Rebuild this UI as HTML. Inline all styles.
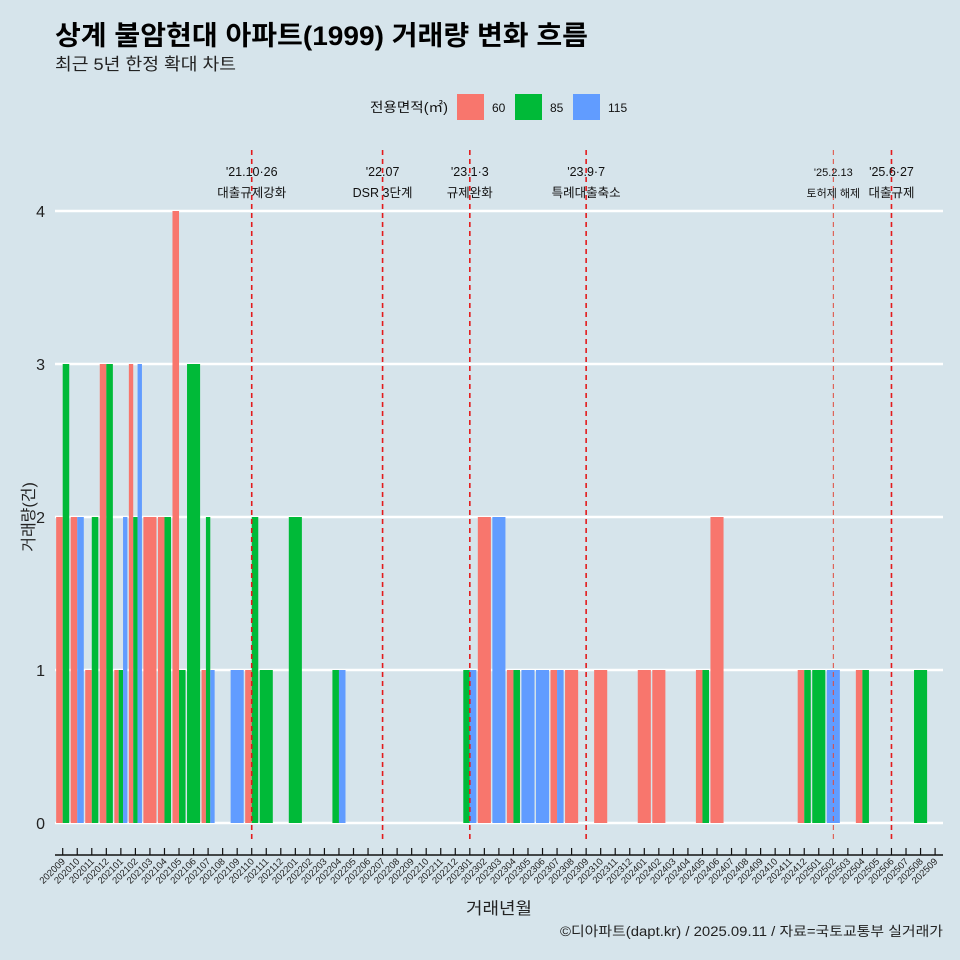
<!DOCTYPE html>
<html><head><meta charset="utf-8"><style>
body{margin:0;background:#d6e4eb;}
svg{display:block;font-family:"Liberation Sans","Noto Sans CJK KR",sans-serif;}
</style></head><body>
<svg id="chart" width="960" height="960" xmlns="http://www.w3.org/2000/svg">
<rect width="960" height="960" fill="#d6e4eb"/>
<text x="55" y="45" font-size="27" font-weight="bold" fill="#000" textLength="533" lengthAdjust="spacingAndGlyphs">상계 불암현대 아파트(1999) 거래량 변화 흐름</text>
<text x="55" y="70" font-size="17" fill="#222" textLength="181" lengthAdjust="spacingAndGlyphs">최근 5년 한정 확대 차트</text>
<g>
<text x="370" y="112" font-size="13.5" fill="#111" textLength="78" lengthAdjust="spacingAndGlyphs">전용면적(㎡)</text>
<rect x="457" y="94" width="27" height="26" fill="#F8766D"/>
<text x="492" y="112" font-size="12" fill="#111">60</text>
<rect x="515" y="94" width="27" height="26" fill="#00BA38"/>
<text x="550" y="112" font-size="12" fill="#111">85</text>
<rect x="573" y="94" width="27" height="26" fill="#619CFF"/>
<text x="608" y="112" font-size="12" fill="#111">115</text>
</g>
<g id="grid"></g><g id="bars"></g><g id="events"></g><g id="axes"></g>
<text transform="translate(34,517) rotate(-90)" text-anchor="middle" font-size="16" fill="#222">거래량(건)</text>
<text x="499" y="914" text-anchor="middle" font-size="16.5" fill="#222" textLength="66" lengthAdjust="spacingAndGlyphs">거래년월</text>
<text x="943" y="936" text-anchor="end" font-size="13.5" fill="#222" textLength="383" lengthAdjust="spacingAndGlyphs">©디아파트(dapt.kr) / 2025.09.11 / 자료=국토교통부 실거래가</text>
</svg>
<script>
const months = [];
for (let y = 2020, m = 9; y < 2025 || (y === 2025 && m <= 9); m++) { if (m > 12) { m = 1; y++; } months.push(String(y) + String(m).padStart(2, '0')); }
const areaTypes = ['60', '85', '115'];
const areaColors = ['#F8766D', '#00BA38', '#619CFF'];
const vol60 = {"202009":2,"202010":2,"202011":1,"202012":3,"202101":1,"202102":3,"202103":2,"202104":2,"202105":4,"202107":1,"202110":1,"202302":2,"202304":1,"202307":1,"202308":1,"202310":1,"202401":1,"202402":1,"202405":1,"202406":2,"202412":1,"202504":1};
const vol85 = {"202009":3,"202011":2,"202012":3,"202101":1,"202102":2,"202104":2,"202105":1,"202106":3,"202107":2,"202110":2,"202111":1,"202201":2,"202204":1,"202301":1,"202304":1,"202405":1,"202412":1,"202501":1,"202504":1,"202508":1};
const vol115 = {"202010":2,"202101":2,"202102":3,"202107":1,"202109":1,"202204":1,"202301":1,"202303":2,"202305":1,"202306":1,"202307":1,"202502":1};
const yTicks = [0, 1, 2, 3, 4];
const eventMonths = ['202110', '202207', '202301', '202309', '202502', '202506'];
const eventDates = ["'21.10·26", "'22.07", "'23.1·3", "'23.9·7", "'25.2.13", "'25.6·27"];
const eventLabels = ['대출규제강화', 'DSR 3단계', '규제완화', '특례대출축소', '토허제 해제', '대출규제'];

const NS = 'http://www.w3.org/2000/svg';
const x0 = 62.7, step = 14.54, yZero = 823, unit = 153, left = 55, right = 943;
const xScale = i => x0 + i * step;
const yScale = v => yZero - v * unit;
function mk(tag, attrs, parent) { const e = document.createElementNS(NS, tag); for (const k in attrs) e.setAttribute(k, attrs[k]); parent.appendChild(e); return e; }
const grid = document.getElementById('grid'), bars = document.getElementById('bars'), ev = document.getElementById('events'), axes = document.getElementById('axes');

yTicks.forEach(t => {
  const l = mk('line', {x1: left, x2: right, y1: yScale(t), y2: yScale(t), stroke: '#fff', 'stroke-width': 2.5}, grid);
  
  
  const tx = mk('text', {x: 45, y: yScale(t) + 6, 'text-anchor': 'end', 'font-size': 16, fill: '#222'}, axes);
  tx.textContent = t;
  
  
});

const series = [vol60, vol85, vol115];
months.forEach((mo, i) => {
  const present = [];
  series.forEach((s, k) => { if (s[mo]) present.push(k); });
  if (!present.length) return;
  const gw = step * 0.9, bw = gw / present.length, start = xScale(i) - gw / 2;
  present.forEach((k, j) => {
    const v = series[k][mo];
    const r = mk('rect', {x: start + j * bw, y: yScale(v), width: bw, height: v * unit, fill: areaColors[k]}, bars);
    
    
  });
});

eventMonths.forEach((mo, k) => {
  const x = xScale(months.indexOf(mo));
  const thin = mo === '202502';
  const l = mk('line', {x1: x, x2: x, y1: 150, y2: 840, stroke: thin ? '#e0483a' : '#e31a1c', 'stroke-width': thin ? 1 : 1.6, 'stroke-dasharray': '5,4'}, ev);
  
  
  const fs = thin ? 11 : 12.5;
  const t1 = mk('text', {x: x, y: 176, 'text-anchor': 'middle', 'font-size': fs, fill: '#111'}, ev);
  t1.textContent = eventDates[k];
  
  
  const t2 = mk('text', {x: x, y: 197, 'text-anchor': 'middle', 'font-size': fs, fill: '#111'}, ev);
  t2.textContent = eventLabels[k];
  
  
});

const ax = mk('line', {x1: left, x2: right, y1: 855, y2: 855, stroke: '#111', 'stroke-width': 1.5}, axes);


months.forEach((mo, i) => {
  const x = xScale(i);
  const tk = mk('line', {x1: x, x2: x, y1: 848, y2: 855, stroke: '#111', 'stroke-width': 1.2}, axes);
  
  
  const t = mk('text', {transform: 'translate(' + (x + 3) + ',862) rotate(-45)', 'text-anchor': 'end', 'font-size': 9.5, fill: '#222'}, axes);
  t.textContent = mo;
  
  
});
</script>
</body></html>
